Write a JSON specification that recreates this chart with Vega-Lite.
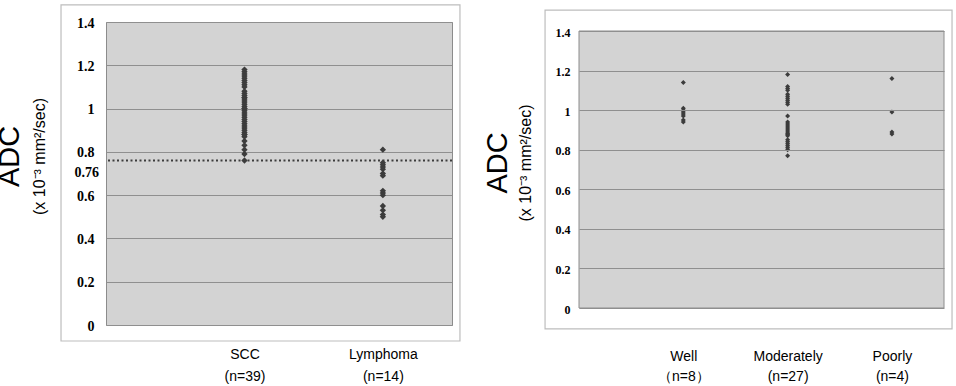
{
  "$schema": "https://vega.github.io/schema/vega-lite/v6.json",
  "background": "white",
  "padding": {"left": -5, "top": 3, "right": 0, "bottom": 0},
  "config": {
    "view": {"fill": "#d3d3d3", "stroke": "#8c8c8c", "strokeWidth": 1},
    "title": {"color": "black"},
    "axis": {"labelOverlap": false, "labelFlush": false}
  },
  "datasets": {
    "histology": [
      {"type": "SCC", "adc": 1.18}, {"type": "SCC", "adc": 1.17}, {"type": "SCC", "adc": 1.16},
      {"type": "SCC", "adc": 1.15}, {"type": "SCC", "adc": 1.14}, {"type": "SCC", "adc": 1.13},
      {"type": "SCC", "adc": 1.12}, {"type": "SCC", "adc": 1.11}, {"type": "SCC", "adc": 1.10},
      {"type": "SCC", "adc": 1.08}, {"type": "SCC", "adc": 1.07}, {"type": "SCC", "adc": 1.06},
      {"type": "SCC", "adc": 1.05}, {"type": "SCC", "adc": 1.05}, {"type": "SCC", "adc": 1.04},
      {"type": "SCC", "adc": 1.03}, {"type": "SCC", "adc": 1.02}, {"type": "SCC", "adc": 1.01},
      {"type": "SCC", "adc": 1.00}, {"type": "SCC", "adc": 1.00}, {"type": "SCC", "adc": 0.99},
      {"type": "SCC", "adc": 0.98}, {"type": "SCC", "adc": 0.97}, {"type": "SCC", "adc": 0.96},
      {"type": "SCC", "adc": 0.95}, {"type": "SCC", "adc": 0.94}, {"type": "SCC", "adc": 0.93},
      {"type": "SCC", "adc": 0.92}, {"type": "SCC", "adc": 0.91}, {"type": "SCC", "adc": 0.90},
      {"type": "SCC", "adc": 0.89}, {"type": "SCC", "adc": 0.88}, {"type": "SCC", "adc": 0.88},
      {"type": "SCC", "adc": 0.87}, {"type": "SCC", "adc": 0.85}, {"type": "SCC", "adc": 0.83},
      {"type": "SCC", "adc": 0.81}, {"type": "SCC", "adc": 0.79}, {"type": "SCC", "adc": 0.76},
      {"type": "Lymphoma", "adc": 0.81}, {"type": "Lymphoma", "adc": 0.75},
      {"type": "Lymphoma", "adc": 0.74}, {"type": "Lymphoma", "adc": 0.73},
      {"type": "Lymphoma", "adc": 0.72}, {"type": "Lymphoma", "adc": 0.70},
      {"type": "Lymphoma", "adc": 0.69}, {"type": "Lymphoma", "adc": 0.62},
      {"type": "Lymphoma", "adc": 0.61}, {"type": "Lymphoma", "adc": 0.60},
      {"type": "Lymphoma", "adc": 0.55}, {"type": "Lymphoma", "adc": 0.53},
      {"type": "Lymphoma", "adc": 0.51}, {"type": "Lymphoma", "adc": 0.50}
    ],
    "grade": [
      {"grade": "Well", "adc": 1.14}, {"grade": "Well", "adc": 1.01}, {"grade": "Well", "adc": 1.00},
      {"grade": "Well", "adc": 0.99}, {"grade": "Well", "adc": 0.98}, {"grade": "Well", "adc": 0.97},
      {"grade": "Well", "adc": 0.95}, {"grade": "Well", "adc": 0.94},
      {"grade": "Moderately", "adc": 1.18}, {"grade": "Moderately", "adc": 1.12},
      {"grade": "Moderately", "adc": 1.11}, {"grade": "Moderately", "adc": 1.10},
      {"grade": "Moderately", "adc": 1.08}, {"grade": "Moderately", "adc": 1.07},
      {"grade": "Moderately", "adc": 1.06}, {"grade": "Moderately", "adc": 1.05},
      {"grade": "Moderately", "adc": 1.04}, {"grade": "Moderately", "adc": 1.03},
      {"grade": "Moderately", "adc": 0.97}, {"grade": "Moderately", "adc": 0.94},
      {"grade": "Moderately", "adc": 0.93}, {"grade": "Moderately", "adc": 0.92},
      {"grade": "Moderately", "adc": 0.91}, {"grade": "Moderately", "adc": 0.90},
      {"grade": "Moderately", "adc": 0.89}, {"grade": "Moderately", "adc": 0.88},
      {"grade": "Moderately", "adc": 0.88}, {"grade": "Moderately", "adc": 0.87},
      {"grade": "Moderately", "adc": 0.85}, {"grade": "Moderately", "adc": 0.84},
      {"grade": "Moderately", "adc": 0.83}, {"grade": "Moderately", "adc": 0.82},
      {"grade": "Moderately", "adc": 0.81}, {"grade": "Moderately", "adc": 0.80},
      {"grade": "Moderately", "adc": 0.77},
      {"grade": "Poorly", "adc": 1.16}, {"grade": "Poorly", "adc": 0.99},
      {"grade": "Poorly", "adc": 0.89}, {"grade": "Poorly", "adc": 0.88}
    ],
    "cutoff": [{"adc": 0.76}]
  },
  "spacing": 22,
  "hconcat": [
    {
      "width": 346,
      "height": 303,
      "title": {
        "text": "ADC",
        "subtitle": "(x 10⁻³ mm²/sec)",
        "orient": "left",
        "anchor": "middle",
        "font": "Liberation Sans",
        "fontSize": 29,
        "fontWeight": "normal",
        "subtitleFont": "Liberation Sans",
        "subtitleFontSize": 16,
        "subtitleColor": "black",
        "subtitlePadding": 7,
        "offset": 12,
        "dx": 17
      },
      "resolve": {"scale": {"x": "independent"}, "axis": {"x": "independent"}},
      "layer": [
        {
          "data": {"values": [{}]},
          "mark": {"type": "rect", "fillOpacity": 0, "stroke": "#bdbdbd", "strokeWidth": 1.2},
          "encoding": {
            "x": {"datum": -0.13, "type": "quantitative", "scale": {"domain": [0, 1], "nice": false, "zero": false}, "axis": null},
            "x2": {"datum": 1.023},
            "y": {"datum": -0.074, "type": "quantitative", "scale": {"domain": [0, 1.4], "nice": false}},
            "y2": {"datum": 1.479}
          }
        },
        {
          "data": {"name": "histology"},
          "mark": {"type": "point", "shape": "diamond", "filled": true, "size": 40, "color": "#3c3c3c", "opacity": 1},
          "encoding": {
            "x": {
              "field": "type",
              "type": "nominal",
              "sort": ["SCC", "Lymphoma"],
              "scale": {"type": "point", "padding": 0.75, "align": 0.667},
              "axis": {
                "title": null,
                "domain": false,
                "ticks": false,
                "grid": false,
                "labelAngle": 0,
                "labelFont": "Liberation Sans",
                "labelFontSize": 14,
                "labelColor": "black",
                "labelPadding": 22,
                "labelLineHeight": 22,
                "labelBaseline": "top",
                "labelExpr": "datum.value == 'SCC' ? ['SCC', '(n=39)'] : ['Lymphoma', '(n=14)']"
              }
            },
            "y": {
              "field": "adc",
              "type": "quantitative",
              "scale": {"domain": [0, 1.4], "nice": false},
              "axis": {
                "title": null,
                "values": [0, 0.2, 0.4, 0.6, 0.8, 1, 1.2, 1.4],
                "format": "~g",
                "domain": false,
                "ticks": false,
                "grid": true,
                "gridColor": "#8f8f8f",
                "labelFont": "Liberation Serif",
                "labelFontWeight": "bold",
                "labelFontSize": 14,
                "labelColor": "black",
                "labelPadding": 12,
                "labelOffset": 1
              }
            }
          }
        },
        {
          "data": {"name": "cutoff"},
          "mark": {"type": "rule", "color": "#3c3c3c", "strokeWidth": 2, "strokeDash": [2, 2.5]},
          "encoding": {"y": {"field": "adc", "type": "quantitative"}}
        },
        {
          "data": {"name": "cutoff"},
          "mark": {"type": "text", "align": "right", "baseline": "middle", "dy": 12, "font": "Liberation Serif", "fontWeight": "bold", "fontSize": 14, "color": "black"},
          "encoding": {
            "x": {"datum": -0.02, "type": "quantitative", "scale": {"domain": [0, 1], "nice": false, "zero": false}, "axis": null},
            "y": {"field": "adc", "type": "quantitative"},
            "text": {"field": "adc", "type": "quantitative", "format": "~g"}
          }
        }
      ]
    },
    {
      "width": 365,
      "height": 286,
      "view": {"fill": null, "stroke": null},
      "title": {
        "text": "ADC",
        "subtitle": "(x 10⁻³ mm²/sec)",
        "orient": "left",
        "anchor": "middle",
        "font": "Liberation Sans",
        "fontSize": 29,
        "fontWeight": "normal",
        "subtitleFont": "Liberation Sans",
        "subtitleFontSize": 16,
        "subtitleColor": "black",
        "subtitlePadding": 5,
        "offset": 10,
        "dx": 2
      },
      "resolve": {"scale": {"x": "independent"}, "axis": {"x": "independent"}},
      "layer": [
        {
          "data": {"values": [{}]},
          "mark": {"type": "rect", "fill": "#d3d3d3", "stroke": "#8c8c8c", "strokeWidth": 1},
          "encoding": {
            "y": {"datum": 0, "type": "quantitative", "scale": {"domain": [0, 1.4455], "nice": false}},
            "y2": {"datum": 1.4}
          }
        },
        {
          "data": {"values": [{}]},
          "mark": {"type": "rect", "fillOpacity": 0, "stroke": "#bdbdbd", "strokeWidth": 1.2},
          "encoding": {
            "x": {"datum": -0.093, "type": "quantitative", "scale": {"domain": [0, 1], "nice": false, "zero": false}, "axis": null},
            "x2": {"datum": 1.022},
            "y": {"datum": -0.106, "type": "quantitative", "scale": {"domain": [0, 1.4455], "nice": false}},
            "y2": {"datum": 1.506}
          }
        },
        {
          "data": {"name": "grade"},
          "mark": {"type": "point", "shape": "diamond", "filled": true, "size": 25, "color": "#3c3c3c", "opacity": 1},
          "encoding": {
            "x": {
              "field": "grade",
              "type": "nominal",
              "sort": ["Well", "Moderately", "Poorly"],
              "scale": {"type": "point", "padding": 0.75, "align": 0.667},
              "axis": {
                "title": null,
                "domain": false,
                "ticks": false,
                "grid": false,
                "labelAngle": 0,
                "labelFont": "Liberation Sans",
                "labelFontSize": 14,
                "labelColor": "black",
                "labelPadding": 41,
                "labelLineHeight": 20,
                "labelBaseline": "top",
                "labelExpr": "datum.value == 'Well' ? ['Well', '（n=8）'] : datum.value == 'Moderately' ? ['Moderately', '(n=27)'] : ['Poorly', '(n=4)']"
              }
            },
            "y": {
              "field": "adc",
              "type": "quantitative",
              "scale": {"domain": [0, 1.4455], "nice": false},
              "axis": {
                "title": null,
                "values": [0, 0.2, 0.4, 0.6, 0.8, 1, 1.2, 1.4],
                "format": "~g",
                "domain": false,
                "ticks": false,
                "grid": true,
                "gridColor": "#8f8f8f",
                "zindex": 1,
                "labelFont": "Liberation Serif",
                "labelFontWeight": "bold",
                "labelFontSize": 12,
                "labelColor": "black",
                "labelPadding": 9,
                "labelOffset": 1
              }
            }
          }
        }
      ]
    }
  ]
}
